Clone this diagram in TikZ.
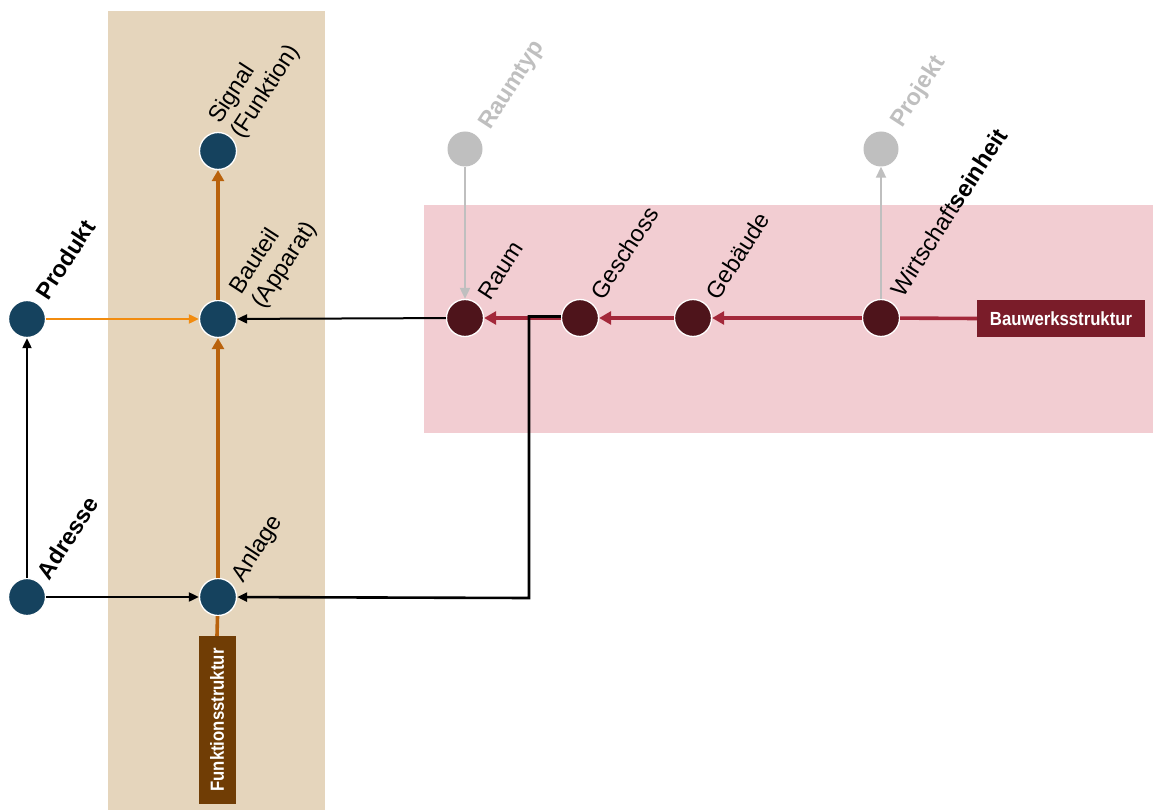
\documentclass[tikz,border=0pt]{standalone}
\usepackage{fontspec}
\setmainfont{Liberation Sans}
\usetikzlibrary{arrows.meta}
\definecolor{beigebg}{HTML}{E5D5BC}
\definecolor{pinkbg}{HTML}{F2CDD2}
\definecolor{bluenode}{HTML}{15425E}
\definecolor{rednode}{HTML}{4E141B}
\definecolor{brownline}{HTML}{B9620C}
\definecolor{brownbox}{HTML}{703D05}
\definecolor{redline}{HTML}{A3283A}
\definecolor{redbox}{HTML}{7A1C29}
\definecolor{orangeline}{HTML}{F28C0F}
\definecolor{grayc}{HTML}{BFBFBF}
\begin{document}
\begin{tikzpicture}[x=1pt,y=-1pt,
  dot/.style={circle, minimum size=37pt, inner sep=0pt, draw=white, line width=1.3pt},
  bdot/.style={dot, fill=bluenode},
  rdot/.style={dot, fill=rednode},
  gdot/.style={circle, minimum size=35pt, inner sep=0pt, fill=grayc},
  lbl/.style={rotate=57, anchor=base west, inner sep=0pt, outer sep=0pt, font=\fontsize{23.5}{27}\selectfont},
  blbl/.style={lbl, font=\fontsize{23.5}{27}\selectfont\bfseries},
  boxlbl/.style={inner sep=0pt, text=white, minimum width=168pt, minimum height=37pt, font=\fontsize{19}{22}\selectfont\bfseries},
  brownarr/.style={draw=brownline, line width=3.6pt, -{Triangle[length=11pt,width=12pt]}},
  redarr/.style={draw=redline, line width=3.6pt, -{Triangle[length=12pt,width=13pt]}},
  blackarr/.style={draw=black, line width=2pt, -{Triangle[length=10pt,width=9pt]}},
  orangearr/.style={draw=orangeline, line width=2pt, -{Triangle[length=10pt,width=9pt]}},
  grayarr/.style={draw=grayc, line width=2pt, -{Triangle[length=11pt,width=10pt]}}
]
\useasboundingbox (0,0) rectangle (1153,810);
\fill[beigebg] (108,11) rectangle (325,810);
\fill[pinkbg] (424,205) rectangle (1153,433);

% nodes
\node[bdot] (signal) at (218,151) {};
\node[bdot] (bauteil) at (218,319) {};
\node[bdot] (anlage) at (218,597) {};
\node[bdot] (produkt) at (27,319) {};
\node[bdot] (adresse) at (27,597) {};
\node[gdot] (raumtyp) at (465,149) {};
\node[gdot] (projekt) at (881,149) {};
\node[rdot] (raum) at (465,318) {};
\node[rdot] (geschoss) at (580,318) {};
\node[rdot] (gebaeude) at (693,318) {};
\node[rdot] (wirt) at (881,318) {};
\node[boxlbl, fill=redbox] (bws) at (1061,318.5) {\scalebox{0.88}[1]{Bauwerksstruktur}};
\node[boxlbl, fill=brownbox, rotate=90] (fs) at (217,720) {\scalebox{0.88}[1]{Funktionsstruktur}};

% labels
\node[lbl] (lsignal) at (220,125) {\begin{tabular}[t]{@{}l@{}}Signal\\(Funktion)\end{tabular}};
\node[lbl] (lbauteil) at (241,295) {\begin{tabular}[t]{@{}l@{}}Bauteil\\(Apparat)\end{tabular}};
\node[lbl] (lanlage) at (243,583) {Anlage};
\node[blbl] (lprodukt) at (48,301) {Produkt};
\node[blbl] (ladresse) at (49,581) {Adresse};
\node[blbl, text=grayc] (lraumtyp) at (490,131) {Raumtyp};
\node[blbl, text=grayc] (lprojekt) at (902,129) {Projekt};
\node[lbl] (lraum) at (490,301) {Raum};
\node[lbl] (lgeschoss) at (603,301) {Geschoss};
\node[lbl] (lgebaeude) at (718,301) {Gebäude};
\node[lbl] (lwirt) at (903,298) {Wirtschaft\textbf{seinheit}};

% connectors
\draw[brownarr] (bauteil) -- (signal);
\draw[brownarr] (anlage) -- (bauteil);
\draw[draw=brownline, line width=3.6pt] (fs.east) -- (anlage);
\draw[orangearr] (produkt) -- (bauteil);
\draw[blackarr] (adresse) -- (produkt);
\draw[blackarr] (adresse) -- (anlage);
\draw[blackarr] (raum) -- (bauteil);
\draw[redarr] (geschoss) -- (raum);
\draw[redarr] (gebaeude) -- (geschoss);
\draw[redarr] (wirt) -- (gebaeude);
\draw[draw=redline, line width=3.6pt] (bws.west) -- (wirt);
\coordinate (corner) at (529,598);
\draw[blackarr, line width=2.6pt] ([yshift=1.5pt]geschoss.west) -| (corner) -- (anlage);
\draw[grayarr] (raumtyp) -- (raum);
\draw[grayarr] (wirt) -- (projekt);
\end{tikzpicture}
\end{document}
